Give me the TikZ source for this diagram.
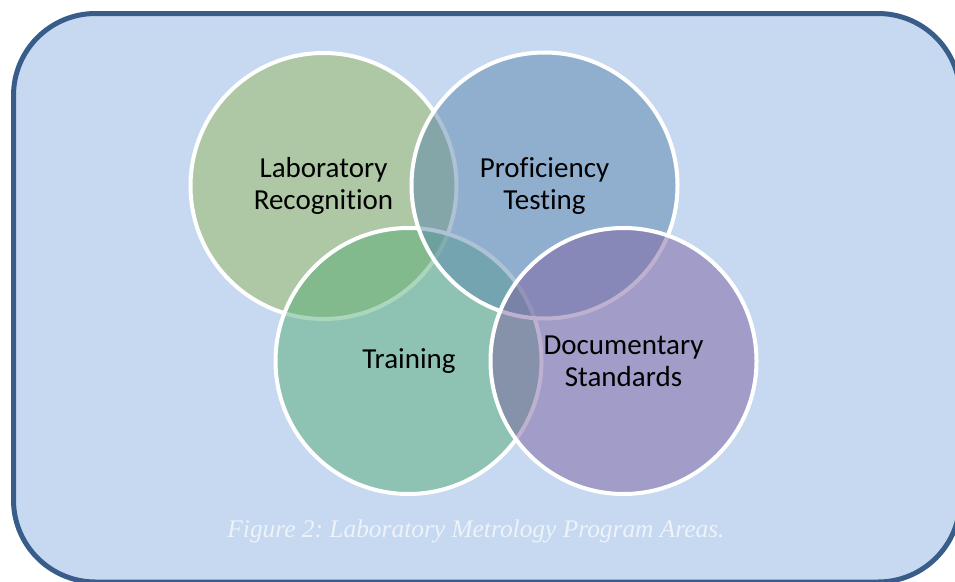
\documentclass[tikz,border=0pt]{standalone}
\usepackage{fontspec}
\setmainfont{Carlito}[Ligatures={NoCommon}]
\newfontfamily\capfont{Liberation Serif}
\definecolor{framefill}{RGB}{198,217,241}
\definecolor{frameline}{RGB}{56,93,138}
\definecolor{cgreen}{RGB}{152,183,90}
\definecolor{cblue}{RGB}{92,135,172}
\definecolor{cteal}{RGB}{87,175,120}
\definecolor{cpurple}{RGB}{127,99,161}
\definecolor{captioncol}{RGB}{238,243,250}
\tikzset{
  venn/.style={circle, minimum size=266pt, inner sep=0pt, draw=white, line width=4pt, fill opacity=0.5, text opacity=1},
  lbl/.style={font=\fontsize{29}{32}\selectfont, align=center, text=black},
}
\frenchspacing
\begin{document}
\begin{tikzpicture}[x=1pt,y=-1pt]
\useasboundingbox (0,0) rectangle (955,581);
\clip (0,0) rectangle (955,581);
\draw[frameline, fill=framefill, line width=5pt, rounded corners=82pt] (13.5,13.5) rectangle (960,582);
\node[venn, fill=cgreen] (c1) at (323.5,186) {};
\node[venn, fill=cteal] (c3) at (408.5,361) {};
\node[venn, fill=cblue] (c2) at (544.5,185.5) {};
\node[venn, fill=cpurple] (c4) at (623.5,361) {};
\node[lbl] (t1) at (323.5,186) {Laboratory\\Recognition};
\node[lbl] (t2) at (544.5,186) {Proficiency\\Testing};
\node[lbl] (t3) at (409,361) {Training};
\node[lbl] (t4) at (623.5,361) {Documentary\\Standards};
\node[font=\capfont\itshape\fontsize{25.4}{28}\selectfont, text=captioncol, anchor=base] (cap) at (476,537) {Figure 2: Laboratory Metrology Program Areas.};
\end{tikzpicture}
\end{document}
